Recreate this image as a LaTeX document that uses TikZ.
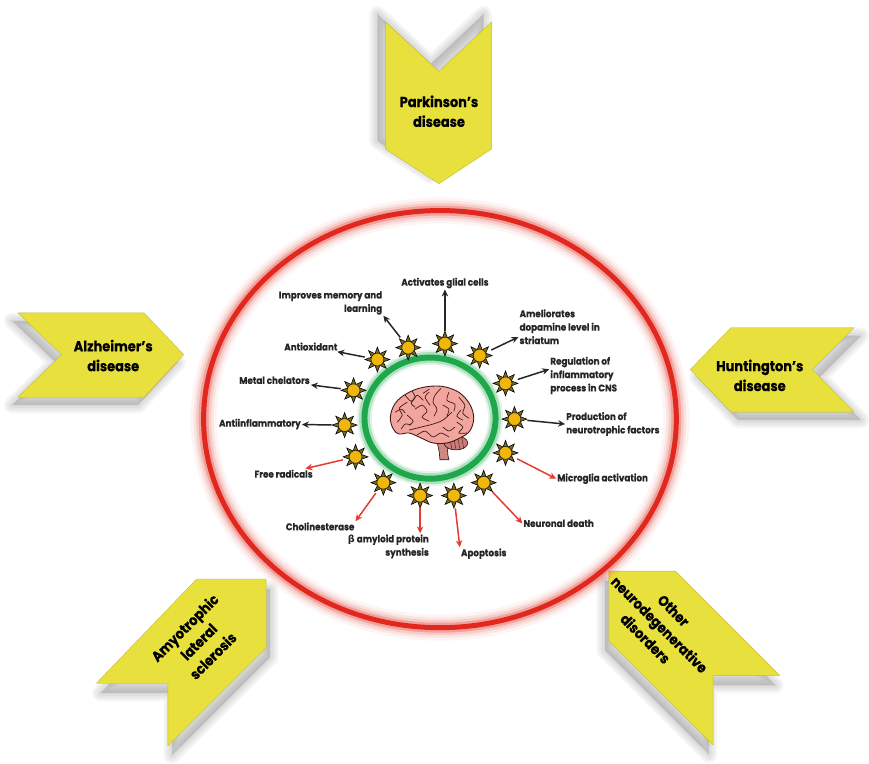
\documentclass[tikz,border=0pt]{standalone}
\usepackage{fontspec}
\setsansfont{Poppins}[FakeStretch=0.9,BoldFeatures={FakeBold=0.5}]
\newfontfamily\grkfont{DejaVu Sans}
\usepackage{tikz}
\usetikzlibrary{arrows.meta}
\definecolor{chevyellow}{HTML}{E8E03C}
\definecolor{ringred}{HTML}{E2281E}
\definecolor{ringgreen}{HTML}{1FA84B}
\definecolor{sungold}{HTML}{F1B60A}
\definecolor{sunray}{HTML}{7C6B1C}
\definecolor{arrowred}{HTML}{E63A2E}
\definecolor{brainpink}{HTML}{F2A59C}
\definecolor{brainline}{HTML}{3E1A1A}
\definecolor{cerebellum}{HTML}{C97C78}

\tikzset{
  sun/.pic={
    \foreach \a in {0,45,...,315}
      \filldraw[fill=sunray,draw=black,line width=.6,rotate=\a] (5.5,-2.6) -- (12.5,0) -- (5.5,2.6) -- cycle;
    \filldraw[fill=sungold,draw=black!85,line width=.7] (0,0) circle (6.5pt);
  }
}

\begin{document}
\begin{tikzpicture}[x=1pt,y=-1pt,
  lbl/.style={font=\fontsize{9.8}{13.5}\sffamily\bfseries,inner sep=1pt,text=black!85},
  chevtext/.style={font=\fontsize{14.5}{20}\sffamily\bfseries,align=center,inner sep=1pt},
  chev/.style={fill=chevyellow,draw=chevyellow!85!black,line width=.4,line join=round},
  haze/.style={fill=black!55,draw=black!55,opacity=.08,line join=round},
  arr/.style={-{Stealth[length=7pt,width=6.5pt]},line width=1.5,draw=black!85,shorten <=13pt},
  redarr/.style={arr,draw=arrowred},
  sulcus/.style={draw=brainline,line width=.7,line cap=round},
  parkshape/.style={insert path={(388,22) -- (442,72) -- (495,22) -- (495,150) -- (442,185) -- (388,150) -- cycle}},
  alzshape/.style={insert path={(18,315) -- (145,315) -- (185,357) -- (145,400) -- (18,400) -- (62,357) -- cycle}},
  huntshape/.style={insert path={(736,330) -- (860,330) -- (818,372) -- (860,415) -- (736,415) -- (695,372) -- cycle}},
  alsshape/.style={insert path={(198,583) -- (268,583) -- (268,652) -- (169,751) -- (169,688) -- (97,688) -- cycle}},
  othershape/.style={insert path={(613,575) -- (680,575) -- (785,680) -- (718,680) -- (718,750) -- (613,645) -- cycle}}
]
\fill[white] (0,0) rectangle (869,751);

% disease chevrons with soft shadows
\foreach \w in {16,11,6,0.1} {
  \path[haze,line width=\w,shift={(-8,-8)},parkshape];
  \path[haze,line width=\w,shift={(-6,8)},alzshape];
  \path[haze,line width=\w,shift={(7,8)},huntshape];
  \path[haze,line width=\w,shift={(4,10)},alsshape];
  \path[haze,line width=\w,shift={(-4,10)},othershape];
}
\path[chev,parkshape];
\path[chev,alzshape];
\path[chev,huntshape];
\path[chev,alsshape];
\path[chev,othershape];
\node[chevtext] (parkinson) at (442,112) {Parkinson’s\\disease};
\node[chevtext] (alzheimer) at (114,358) {Alzheimer’s\\disease};
\node[chevtext] (huntington) at (765,378) {Huntington’s\\disease};
\node[chevtext,rotate=45] (als) at (200,646) {Amyotrophic\\lateral\\sclerosis};
\node[chevtext,rotate=-45] (otherdis) at (664,629) {Other\\neurodegenerative\\disorders};

% red outer ring
\foreach \w/\o in {26/.05,20/.08,15/.13,10/.25}
  \draw[ringred,opacity=\o,line width=\w] (443,422) ellipse [x radius=238,y radius=210];
\draw[ringred,line width=5] (443,422) ellipse [x radius=238,y radius=210];

% green inner ring
\foreach \w/\o in {15/.12,11/.25}
  \draw[ringgreen,opacity=\o,line width=\w] (433,421) ellipse [x radius=66,y radius=61];
\draw[ringgreen,line width=6] (433,421) ellipse [x radius=66,y radius=61];

% brain
\filldraw[fill=brainpink!80!brainline,draw=brainline,line width=.7]
  (439,442) .. controls (442,452) .. (443,463) -- (452,463) .. controls (450,454) .. (453,442) -- cycle;
\filldraw[fill=cerebellum,draw=brainline,line width=.7] (459,446) ellipse [x radius=12,y radius=7];
\foreach \dx in {-6,-2,2,6}
  \draw[brainline,line width=.4] (459+\dx,441) -- (459+\dx+2,452);
\filldraw[fill=brainpink,draw=brainline,line width=.9] plot[smooth cycle,tension=.6] coordinates {
  (396,432) (393,420) (398,406) (410,396) (426,390) (445,389) (462,395) (473,407)
  (477,421) (473,434) (463,441) (450,446) (436,446) (424,441) (412,436) (402,437)};
\draw[sulcus] plot[smooth] coordinates {(412,433) (424,430) (436,427) (446,423) (455,415)};
\draw[sulcus] plot[smooth] coordinates {(444,391) (438,398) (436,405) (440,412) (437,419)};
\draw[sulcus] plot[smooth] coordinates {(400,425) (405,418) (402,411) (410,405)};
\draw[sulcus] plot[smooth] coordinates {(408,398) (414,404) (420,398) (426,403)};
\draw[sulcus] plot[smooth] coordinates {(418,412) (425,408) (430,414) (425,420) (432,424)};
\draw[sulcus] plot[smooth] coordinates {(452,395) (450,403) (458,407) (457,414)};
\draw[sulcus] plot[smooth] coordinates {(462,400) (468,408) (466,416) (472,421)};
\draw[sulcus] plot[smooth] coordinates {(460,425) (466,430) (462,436) (470,436)};
\draw[sulcus] plot[smooth] coordinates {(420,438) (428,434) (436,440) (444,436) (452,440)};
\draw[sulcus] plot[smooth] coordinates {(410,418) (416,424) (412,428)};
\draw[sulcus] plot[smooth] coordinates {(432,395) (428,400) (433,408)};
\draw[sulcus] plot[smooth] coordinates {(446,430) (452,434) (458,430)};
\draw[sulcus] plot[smooth] coordinates {(398,415) (404,412) (408,416)};
\draw[sulcus] plot[smooth] coordinates {(415,394) (418,400) (414,406) (418,410)};
\draw[sulcus] plot[smooth] coordinates {(446,408) (452,412) (450,419)};
\draw[sulcus] plot[smooth] coordinates {(464,413) (460,419) (466,423)};
\draw[sulcus] plot[smooth] coordinates {(404,432) (408,427) (414,428)};
\draw[sulcus] plot[smooth] coordinates {(426,396) (432,392)};

% suns around the ring
\foreach \x/\y [count=\i] in {380/362,411/350,448/346,483/358,509/386,518/422,509/456,
    487/486,457/499,423/499,386/486,358/460,347/428,356/393} {
  \coordinate (s\i) at (\x,\y);
  \pic at (s\i) {sun};
}

% effects
\node[lbl] (glial) at (448,285) {Activates glial cells};
\node[lbl,align=right,anchor=east] (memory) at (386,305) {Improves memory and\\learning};
\node[lbl,anchor=east] (antiox) at (341,349) {Antioxidant};
\node[lbl,anchor=east] (chelat) at (313,383) {Metal chelators};
\node[lbl,anchor=east] (antiinf) at (304,427) {Antiinflammatory};
\node[lbl,align=left,anchor=west] (dopamine) at (522,329) {Ameliorates\\dopamine level in\\striatum};
\node[lbl,align=left,anchor=west] (inflamm) at (553,378) {Regulation of\\inflammatory\\process in CNS};
\node[lbl,align=left,anchor=west] (neurotroph) at (569,427) {Production of\\neurotrophic factors};
\node[lbl,anchor=west] (microgl) at (560,482) {Microglia activation};
\node[lbl,anchor=west] (neurdeath) at (526,527) {Neuronal death};
\node[lbl,anchor=north west] (apopt) at (463,551) {Apoptosis};
\node[lbl,align=right,anchor=north east] (amyloid) at (433,537) {{\grkfont\bfseries β} amyloid protein\\synthesis};
\node[lbl,anchor=east] (cholin) at (358,530) {Cholinesterase};
\node[lbl,anchor=east] (freerad) at (316,477) {Free radicals};

\draw[arr] (s1) -- (antiox);
\draw[arr] (s2) -- (memory.south east);
\draw[arr] (s3) -- (glial);
\draw[arr] (s4) -- (dopamine.194);
\draw[arr] (s5) -- (inflamm.170);
\draw[arr] (s6) -- (neurotroph.west);
\draw[redarr] (s7) -- (microgl.west);
\draw[redarr] (s8) -- (neurdeath.west);
\draw[redarr] (s9) -- (apopt.north west);
\draw[redarr] (s10) -- (s10 |- amyloid.north);
\draw[redarr] (s11) -- (cholin.north east);
\draw[redarr] (s12) -- (freerad);
\draw[arr] (s13) -- (antiinf);
\draw[arr] (s14) -- (chelat);
\end{tikzpicture}
\end{document}
